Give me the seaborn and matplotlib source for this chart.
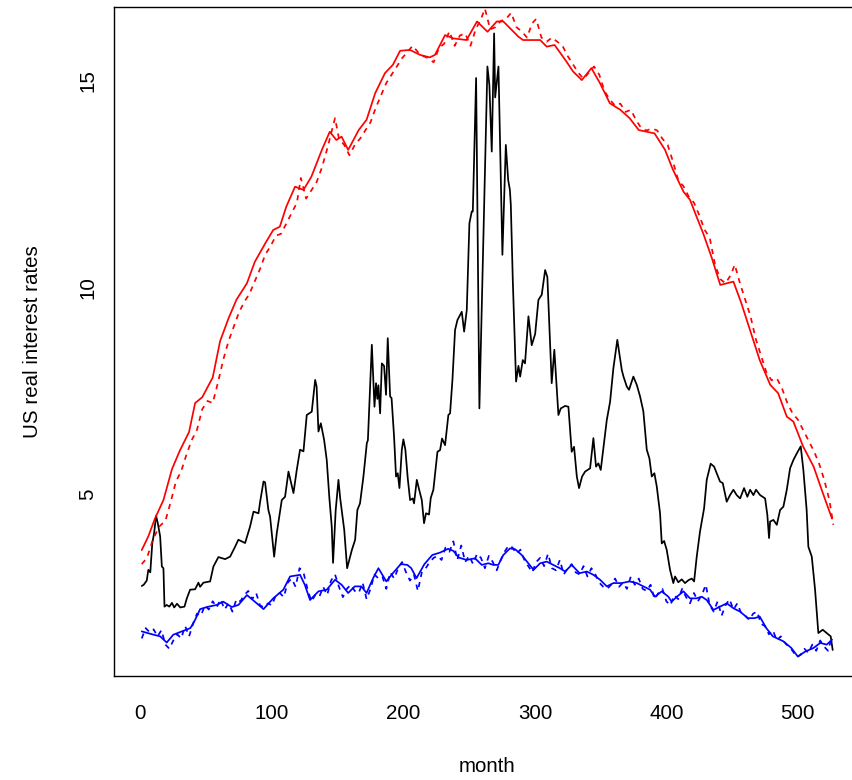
import numpy as np
import pandas as pd
import matplotlib
matplotlib.use("Agg")
import matplotlib.pyplot as plt
import seaborn as sns

# ---------------- data ----------------
black_month = [1, 2.5, 4.8, 6, 7.5, 9, 10.4, 11.9, 13.2, 15, 16.3, 17.5, 18.3, 20, 22, 24, 25.7, 27.8, 30.3,
               33.5, 35.3, 37.8, 41.6, 44.1, 45.4, 47.9, 53, 55.5, 59.3, 64.4, 68.2, 72, 74.5, 79.6, 83.4,
               86, 89.8, 91, 93.6, 94.8, 97.3, 98.6, 101.7, 103.7, 107.5, 110, 112.6, 116.4, 118.9, 121.4,
               124, 126.5, 130.3, 132.9, 134, 135.4, 137.2, 139.7, 141.7, 143.7, 145.5, 146.5, 148.5, 150.6,
               151.9, 155, 157.2, 160.8, 163.3, 165, 167, 169.6, 172.2, 173, 176, 178, 179.2, 180.2, 181,
               182.3, 183.6, 185.3, 186.8, 188.1, 189.9, 191, 192.9, 194.4, 195.7, 197, 198.8, 200, 201.5,
               203.3, 205.1, 207.1, 208.1, 210.2, 212, 214, 215.7, 217.2, 219.5, 220.8, 222.8, 225.9, 227.9,
               229.4, 231.7, 234.2, 235.5, 237.3, 239.3, 241.1, 243.1, 244.4, 246.2, 248.2, 250.2, 252,
               252.8, 255.3, 257.8, 263.9, 265.4, 267.2, 269, 269.8, 272.3, 275.3, 277.9, 279.7, 281,
               281.7, 283.2, 285.7, 287.5, 288.8, 290.8, 292.5, 295.1, 297.6, 300.2, 302.7, 305.2, 307.8,
               309.5, 312.8, 314.8, 317.9, 319.7, 323, 325.5, 328, 329.8, 331.9, 333.6, 335.9, 338.2, 342,
               344.5, 346.5, 348.3, 350.1, 352.1, 354.7, 357.2, 359.7, 362.7, 366.1, 367.4, 369.9, 371.6,
               374.9, 377.5, 380, 382.5, 385.1, 387.1, 388.9, 390.9, 392.7, 395.2, 396.5, 398.3, 400.3,
               402.8, 405.3, 406.6, 409.1, 411.7, 414.2, 416.8, 419.3, 421.1, 423.1, 425.6, 428.7, 430.7,
               433.7, 436.3, 438.3, 440.8, 442.9, 445.9, 448.4, 451, 453.5, 456.1, 459.1, 461.6, 463.7,
               466.2, 468.2, 471.3, 475.1, 476.8, 478.1, 478.9, 481.4, 484, 486.5, 489, 491.6, 494.1,
               496.6, 499.2, 502.2, 504.2, 506.7, 508, 510.6, 513.1, 515.6, 518.9, 522, 525, 526.5]
black_value = [2.77, 2.80, 2.90, 3.16, 3.10, 3.80, 4.05, 4.47, 4.29, 3.97, 3.24, 3.20, 2.27, 2.31, 2.27, 2.36,
               2.25, 2.34, 2.25, 2.27, 2.47, 2.68, 2.69, 2.85, 2.75, 2.85, 2.88, 3.24, 3.47, 3.42, 3.48, 3.72,
               3.89, 3.81, 4.21, 4.57, 4.53, 4.80, 5.30, 5.28, 4.61, 4.45, 3.48, 4.05, 4.85, 4.93, 5.54, 5.02,
               5.58, 6.07, 6.03, 6.91, 6.99, 7.76, 7.60, 6.51, 6.71, 6.31, 5.82, 4.90, 4.21, 3.33, 4.60, 5.34,
               4.90, 4.13, 3.20, 3.64, 3.89, 4.61, 4.77, 5.42, 6.23, 6.30, 8.61, 7.11, 7.68, 7.30, 7.63, 6.95,
               8.16, 8.10, 7.40, 8.77, 7.36, 7.32, 6.39, 5.42, 5.50, 5.14, 6.07, 6.32, 6.07, 5.38, 4.85, 4.89,
               4.77, 5.34, 5.10, 4.85, 4.29, 4.53, 4.50, 4.90, 5.10, 6.02, 6.06, 6.34, 6.18, 6.91, 6.95, 7.76,
               8.97, 9.21, 9.33, 9.41, 8.93, 9.45, 11.55, 11.84, 11.84, 15.07, 7.07, 15.35, 14.90, 13.29,
               16.15, 14.60, 15.35, 10.79, 13.45, 12.60, 12.36, 12.00, 10.18, 7.72, 8.10, 7.84, 8.24, 8.16,
               9.30, 8.60, 8.87, 9.70, 9.82, 10.42, 10.25, 7.68, 8.49, 6.91, 7.07, 7.13, 7.11, 6.02, 6.14,
               5.42, 5.14, 5.42, 5.54, 5.62, 6.35, 5.66, 5.74, 5.58, 6.10, 6.79, 7.23, 8.04, 8.73, 8.00, 7.84,
               7.60, 7.52, 7.84, 7.64, 7.36, 7.00, 6.07, 5.86, 5.42, 5.50, 5.18, 4.53, 3.80, 3.86, 3.64, 3.16,
               2.84, 3.00, 2.86, 2.93, 2.84, 2.91, 2.95, 2.88, 3.48, 4.09, 4.65, 5.34, 5.73, 5.66, 5.50, 5.30,
               5.26, 4.81, 4.97, 5.10, 4.97, 4.89, 5.14, 4.93, 5.10, 4.97, 5.10, 4.97, 4.89, 4.49, 3.93, 4.33,
               4.37, 4.25, 4.61, 4.69, 5.10, 5.62, 5.82, 5.98, 6.15, 5.58, 4.61, 3.72, 3.48, 2.68, 1.63, 1.71,
               1.63, 1.55, 1.22]

red_month = [1, 6, 11, 17.5, 24, 30, 37, 41.6, 47, 55, 60.6, 67, 73, 81, 87, 95, 101, 106, 111, 117.6, 124,
             130, 138, 144, 149, 153, 158, 166, 172, 178.5, 186, 192, 197.5, 205, 212.7, 220, 224, 231.7,
             238, 248, 256, 264, 271, 276, 281, 287.5, 291, 296, 304, 309, 315, 324, 329, 335.7, 343,
             349.6, 357, 365, 372, 379, 385, 391, 399, 405, 413, 418, 423, 428, 434.5, 441, 451, 457, 464,
             471, 479, 485, 491.6, 496.6, 504, 512, 519, 526]
red_value = [3.64, 3.97, 4.40, 4.85, 5.60, 6.05, 6.50, 7.20, 7.34, 7.82, 8.70, 9.25, 9.70, 10.10, 10.62, 11.07,
             11.39, 11.47, 11.96, 12.44, 12.36, 12.68, 13.33, 13.77, 13.57, 13.65, 13.33, 13.81, 14.06, 14.70,
             15.19, 15.39, 15.73, 15.75, 15.63, 15.57, 15.63, 16.11, 16.03, 15.99, 16.44, 16.19, 16.44, 16.44,
             16.28, 16.07, 15.99, 15.99, 15.99, 15.83, 15.87, 15.47, 15.23, 15.02, 15.31, 14.94, 14.46, 14.30,
             14.10, 13.81, 13.77, 13.73, 13.33, 12.85, 12.32, 12.12, 11.71, 11.31, 10.72, 10.06, 10.14, 9.62,
             8.93, 8.24, 7.64, 7.44, 6.87, 6.75, 6.15, 5.66, 5.02, 4.40]

red_dash_month = [1, 5, 9, 14, 19, 23, 27, 31, 35, 39, 43, 47, 51, 55, 59, 63, 67, 71, 75, 79, 83, 87, 91, 95,
                  99, 103, 107, 111, 115, 119, 122, 126, 130, 134, 138, 142, 146, 148, 151, 155, 159, 163, 167,
                  171, 175, 179, 183, 187, 191, 195, 199, 203, 207, 211, 215, 219, 223, 227, 231, 235, 239, 243,
                  247, 251, 255, 259, 262, 266, 270, 274, 278, 282, 286, 290, 294, 298, 301, 305, 309, 313, 317,
                  321, 325, 329, 333, 337, 341, 345, 349, 353, 357, 361, 365, 369, 373, 377, 381, 385, 389, 393,
                  397, 401, 405, 409, 413, 417, 421, 425, 429, 433, 437, 441, 445, 449, 452, 456, 460, 464, 468,
                  472, 476, 480, 484, 488, 492, 496, 500, 504, 508, 512, 516, 520, 524, 527]
red_dash_value = [3.30, 3.45, 3.85, 4.20, 4.35, 4.80, 5.30, 5.55, 5.95, 6.30, 6.55, 7.05, 7.25, 7.20, 7.70, 8.25,
                  8.70, 9.05, 9.40, 9.65, 9.85, 10.15, 10.45, 10.80, 11.00, 11.25, 11.30, 11.55, 11.80, 12.05,
                  12.65, 12.15, 12.35, 12.55, 12.90, 13.35, 13.85, 14.10, 13.60, 13.45, 13.20, 13.45, 13.60,
                  13.80, 14.00, 14.35, 14.65, 14.95, 15.15, 15.35, 15.55, 15.70, 15.85, 15.70, 15.60, 15.55,
                  15.45, 15.80, 15.90, 16.20, 15.85, 16.10, 16.15, 15.85, 16.25, 16.50, 16.75, 16.25, 16.30,
                  16.45, 16.50, 16.65, 16.30, 16.20, 16.05, 16.40, 16.50, 16.05, 15.95, 16.05, 15.95, 15.85,
                  15.60, 15.40, 15.20, 15.05, 15.20, 15.35, 15.15, 14.75, 14.55, 14.40, 14.45, 14.25, 14.30,
                  14.05, 13.85, 13.80, 13.85, 13.80, 13.60, 13.45, 13.05, 12.60, 12.45, 12.20, 12.05, 11.75,
                  11.40, 11.20, 10.55, 10.20, 10.10, 10.30, 10.55, 10.10, 9.70, 9.30, 8.75, 8.35, 7.95, 7.75,
                  7.80, 7.55, 7.20, 6.95, 6.80, 6.55, 6.30, 6.05, 5.75, 5.35, 4.85, 4.25]

blue_month = [1, 10, 15, 20, 25, 31.5, 38, 41.6, 45.4, 50.5, 58, 63, 69.5, 74.5, 81, 87, 93.6, 101, 108.7,
              113.8, 121.4, 125, 129, 135.4, 141.7, 148, 153, 158, 163, 168, 172, 177, 181, 187, 192, 198,
              203, 206, 210, 216, 222, 228, 234, 238, 242, 248, 254.5, 259.6, 264.6, 268.4, 272.2, 276, 281,
              285, 290, 295, 299, 304, 309, 314, 319, 323, 328, 334, 339.5, 344.5, 349.6, 354.7, 359.7, 366,
              372, 377.5, 382.5, 387.6, 391.4, 396.5, 401.5, 404, 408, 413, 418, 423, 427, 430.7, 435.8,
              440.8, 446, 451, 456, 462, 467, 471, 476, 481, 489, 495, 500, 505.5, 512, 517, 522, 526]
blue_value = [1.67, 1.59, 1.55, 1.40, 1.59, 1.67, 1.75, 1.95, 2.21, 2.26, 2.31, 2.39, 2.26, 2.31, 2.55, 2.39,
              2.21, 2.47, 2.68, 3.00, 3.04, 2.80, 2.43, 2.64, 2.68, 2.92, 2.80, 2.60, 2.76, 2.76, 2.60, 2.96,
              3.20, 2.88, 3.08, 3.30, 3.28, 3.20, 2.96, 3.30, 3.52, 3.58, 3.67, 3.62, 3.46, 3.40, 3.44, 3.28,
              3.32, 3.28, 3.28, 3.52, 3.68, 3.66, 3.52, 3.32, 3.16, 3.32, 3.36, 3.28, 3.20, 3.12, 3.28, 3.08,
              3.12, 3.04, 2.92, 2.76, 2.84, 2.84, 2.88, 2.84, 2.76, 2.68, 2.51, 2.64, 2.51, 2.39, 2.51, 2.64,
              2.47, 2.47, 2.51, 2.43, 2.19, 2.27, 2.35, 2.23, 2.15, 1.99, 1.99, 2.03, 1.75, 1.55, 1.43, 1.27,
              1.06, 1.18, 1.27, 1.39, 1.35, 1.47]

blue_dash_month = [1, 4, 7, 10, 13, 16, 19, 22, 25, 28, 31, 34, 37, 40, 43, 46, 49, 52, 55, 58, 61, 64, 67, 70,
                   73, 76, 79, 82, 85, 88, 91, 94, 97, 100, 103, 106, 109, 112, 115, 118, 121, 124, 127, 130,
                   133, 136, 139, 142, 145, 148, 151, 154, 157, 160, 163, 166, 169, 172, 175, 178, 181, 184,
                   187, 190, 193, 196, 199, 202, 205, 208, 211, 214, 217, 220, 223, 226, 229, 232, 235, 238,
                   241, 244, 247, 250, 253, 256, 259, 262, 265, 268, 271, 274, 277, 280, 283, 286, 289, 292,
                   295, 298, 301, 304, 307, 310, 313, 316, 319, 322, 325, 328, 331, 334, 337, 340, 343, 346,
                   349, 352, 355, 358, 361, 364, 367, 370, 373, 376, 379, 382, 385, 388, 391, 394, 397, 400,
                   403, 406, 409, 412, 415, 418, 421, 424, 427, 430, 433, 436, 439, 442, 445, 448, 451, 454,
                   457, 460, 463, 466, 469, 472, 475, 478, 481, 484, 487, 490, 493, 496, 499, 502, 505, 508,
                   511, 514, 517, 520, 523, 526]
blue_dash_value = [1.50, 1.75, 1.65, 1.72, 1.55, 1.70, 1.35, 1.25, 1.45, 1.60, 1.50, 1.80, 1.55, 1.85, 2.10,
                   2.05, 2.30, 2.20, 2.40, 2.25, 2.45, 2.20, 2.35, 2.15, 2.45, 2.40, 2.55, 2.65, 2.45, 2.60,
                   2.30, 2.25, 2.35, 2.30, 2.55, 2.60, 2.50, 2.85, 2.95, 2.75, 3.20, 3.10, 2.70, 2.40, 2.55,
                   2.50, 2.75, 2.55, 2.90, 3.05, 2.75, 2.50, 2.70, 2.80, 2.65, 2.60, 2.85, 2.45, 2.70, 3.05,
                   2.95, 3.00, 2.70, 3.10, 2.95, 3.20, 3.35, 3.10, 2.90, 3.05, 2.65, 3.10, 3.20, 3.35, 3.45,
                   3.50, 3.40, 3.70, 3.60, 3.85, 3.40, 3.75, 3.35, 3.50, 3.30, 3.55, 3.45, 3.20, 3.50, 3.35,
                   3.15, 3.40, 3.60, 3.75, 3.70, 3.55, 3.65, 3.40, 3.25, 3.10, 3.35, 3.45, 3.25, 3.55, 3.20,
                   3.15, 3.40, 3.05, 3.20, 3.30, 3.10, 3.05, 3.25, 3.00, 3.20, 3.05, 2.85, 2.75, 2.70, 2.80,
                   2.95, 2.75, 2.85, 2.70, 3.00, 2.80, 2.95, 2.70, 2.65, 2.80, 2.45, 2.60, 2.70, 2.40, 2.30,
                   2.55, 2.45, 2.70, 2.50, 2.35, 2.60, 2.40, 2.55, 2.80, 2.30, 2.15, 2.40, 2.05, 2.30, 2.45,
                   2.20, 2.35, 2.10, 2.05, 1.95, 2.10, 2.15, 1.85, 1.80, 1.60, 1.70, 1.45, 1.55, 1.40, 1.30,
                   1.20, 1.05, 1.10, 1.25, 1.15, 1.35, 1.20, 1.45, 1.30, 1.20, 1.55]

x_ticks = [0, 100, 200, 300, 400, 500]
y_ticks = [5, 10, 15]
x_label = "month"
y_label = "US real interest rates"

# ---------------- figure ----------------
sns.set_theme(style="white")
plt.rcParams["font.family"] = ["Liberation Sans", "DejaVu Sans"]

W, H = 852, 780
fig = plt.figure(figsize=(W / 100, H / 100), dpi=100)
left_px, right_px, top_px, bottom_px = 114, 862.4, 7, 676
ax = fig.add_axes([left_px / W, (H - bottom_px) / H, (right_px - left_px) / W, (bottom_px - top_px) / H])

lw = 1.25
series = [
    (black_month, black_value, "black", "-"),
    (red_month, red_value, "#FF0000", "-"),
    (red_dash_month, red_dash_value, "#FF0000", "--"),
    (blue_month, blue_value, "#0000FF", "-"),
    (blue_dash_month, blue_dash_value, "#0000FF", "--"),
]
for mx, vy, col, ls in series:
    df = pd.DataFrame({"month": mx, "rate": vy})
    line_ax = sns.lineplot(data=df, x="month", y="rate", ax=ax, color=col, linewidth=lw,
                           estimator=None, sort=False)
    ln = line_ax.get_lines()[-1]
    if ls == "--":
        ln.set_dashes((3.0, 3.0))

ax.set_xlim(-20.1, 549.1)
ax.set_ylim(0.59, 16.79)
ax.set_xticks(x_ticks)
ax.set_xticklabels([str(t) for t in x_ticks])
ax.set_yticks(y_ticks)
ax.set_yticklabels([str(t) for t in y_ticks], rotation=90, va="center")

for sp in ax.spines.values():
    sp.set_visible(True)
    sp.set_color("black")
    sp.set_linewidth(1.0)

ax.tick_params(axis="both", direction="out", length=9, width=0.9, color="black",
               labelsize=14.8, labelcolor="black")
ax.tick_params(axis="x", pad=11)
ax.tick_params(axis="y", pad=3)
ax.grid(False)

ax.set_xlabel(x_label, fontsize=14.8, color="black")
ax.set_ylabel(y_label, fontsize=14.8, color="black")
ax.xaxis.set_label_coords((487 - left_px) / (right_px - left_px), -(767 - bottom_px) / (bottom_px - top_px))
ax.xaxis.label.set_va("center")
ax.yaxis.set_label_coords(-(left_px - 33) / (right_px - left_px), 0.5)
ax.yaxis.label.set_va("center")

fig.savefig("out.png", dpi=100, facecolor="white")
